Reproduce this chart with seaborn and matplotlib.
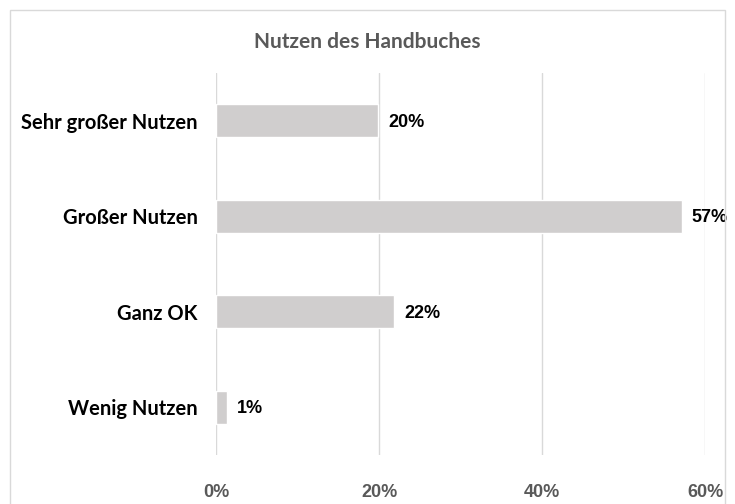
import matplotlib
matplotlib.use("Agg")
import matplotlib.pyplot as plt
import seaborn as sns
import pandas as pd
from matplotlib.patches import Rectangle

categories = ["Sehr großer Nutzen", "Großer Nutzen", "Ganz OK", "Wenig Nutzen"]
values = [19.9, 57.2, 21.9, 1.4]
value_labels = ["20%", "57%", "22%", "1%"]
x_ticks = [0, 20, 40, 60]
x_tick_labels = ["0%", "20%", "40%", "60%"]
title = "Nutzen des Handbuches"

sns.set_theme(style="white")
plt.rcParams["font.family"] = ["Lato", "DejaVu Sans"]

df = pd.DataFrame({"cat": categories, "val": values})

fig = plt.figure(figsize=(7.35, 5.04), dpi=100)
ax = fig.add_axes([216/735, 1-455/504, (705-216)/735, (455-73)/504])

sns.barplot(data=df, y="cat", x="val", orient="h", color="#d0cece",
            width=0.35, ax=ax, saturation=1)

ax.set_xlim(0, 60)
ax.set_ylim(3.5, -0.5)
ax.set_xticks(x_ticks)
ax.set_xticklabels(x_tick_labels, color="#595959", fontsize=13, fontweight="bold",
                   family=["Liberation Sans", "DejaVu Sans"])
ax.tick_params(axis="x", length=0, pad=21)
ax.tick_params(axis="y", length=0, pad=13)
for lbl in ax.get_yticklabels():
    lbl.set_fontsize(14.5)
    lbl.set_fontweight("bold")
    lbl.set_color("black")
ax.set_xlabel("")
ax.set_ylabel("")
ax.grid(axis="x", color="#d9d9d9", linewidth=1)
ax.set_axisbelow(True)
for s in ax.spines.values():
    s.set_visible(False)

for i, (v, lab) in enumerate(zip(values, value_labels)):
    ax.annotate(lab, xy=(v, i), xytext=(7, -1), textcoords="offset points",
                va="center", ha="left", fontsize=13, fontweight="bold", color="black",
                family=["Liberation Sans", "DejaVu Sans"])

fig.text(367/735, 1-42/504, title, ha="center", va="center",
         fontsize=15, fontweight="bold", color="#595959")

fig.patches.append(Rectangle((10/735, -0.05), (725-10)/735, 1-10/504+0.05,
                             transform=fig.transFigure, fill=False,
                             edgecolor="#d9d9d9", linewidth=1))

fig.savefig("out.png", dpi=100)
